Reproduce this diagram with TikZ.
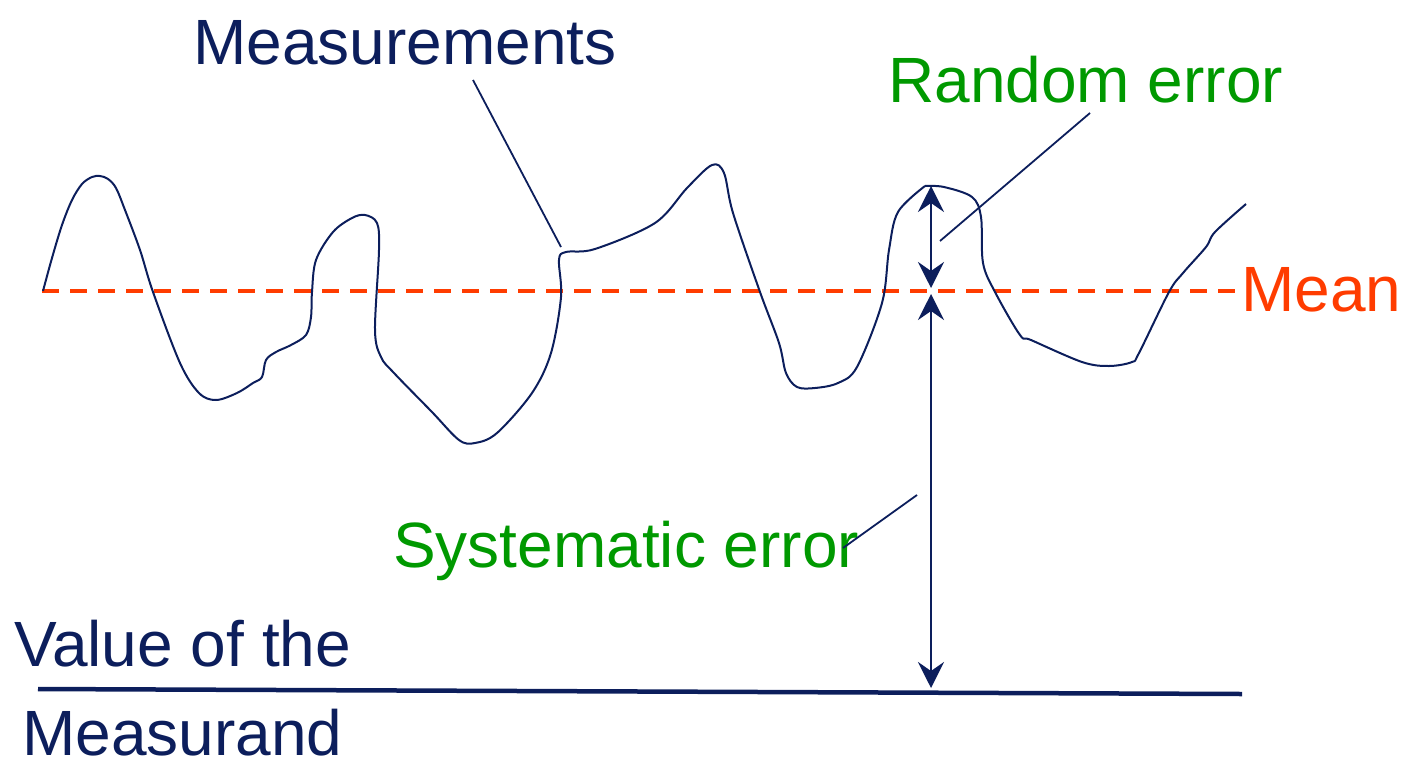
\documentclass[tikz,border=0pt]{standalone}
\usepackage{fontspec}
\setmainfont{Liberation Sans}
\usetikzlibrary{arrows.meta}
\definecolor{navy}{RGB}{12,30,92}
\definecolor{grn}{RGB}{0,153,0}
\definecolor{orng}{RGB}{255,60,0}
\tikzset{
  lbl/.style={inner sep=0pt, anchor=base west, font=\fontsize{64}{70}\selectfont},
  curve/.style={navy, line width=2pt, line join=round},
  leader/.style={navy, line width=1.8pt},
  meanline/.style={orng, line width=4.5pt, dash pattern=on 17pt off 11pt},
  errarrow/.style={navy, line width=2.6pt, {Stealth[length=26pt,width=26pt,inset=9pt]}-{Stealth[length=26pt,width=26pt,inset=9pt]}},
  baseln/.style={navy, line width=4.5pt}
}
\begin{document}
\begin{tikzpicture}[x=1pt,y=-1pt]
\useasboundingbox (0,0) rectangle (1403,761);
% mean line
\coordinate (m0) at (42,291);
\coordinate (m1) at (1240,291);
\draw[meanline] (m0) -- (m1);
% measurand line
\coordinate (b0) at (38,689);
\coordinate (b1) at (1242,694);
\draw[baseln] (b0) -- (b1);
% measurement curve
\draw[curve] plot[smooth, tension=0.55] coordinates {
 (43,291) (52,258) (62,225) (72,200) (82,184) (92,177) (100,176) (108,179)
 (116,188) (125,210) (140,250) (153,292) (180,363) (199,393)
 (216,400) (237,393) (253,383) (262,377) (266,360) (276,352) (291,345) (306,335)
 (311,317) (312,292) (316,260) (333,232) (352,218) (365,215) (377,223) (379,250)
 (375,330) (381,357) (394,373) (432,412) (459,440) (475,443) (497,433) (532,393)
 (551,353) (561,297) (559,260) (566,252) (595,249) (655,223) (687,188) (712,165)
 (724,173) (733,213) (760,292) (779,343) (786,373) (797,387) (815,388) (838,383)
 (857,367) (882,303) (889,250) (898,212) (925,186)};
\draw[curve] plot[smooth, tension=0.55] coordinates {
 (925,186) (944,187) (972,197) (981,217) (983,263) (995,292) (1020,335) (1031,340)
 (1082,362) (1109,366) (1132,362) (1139,353) (1169,292) (1183,273) (1206,247)
 (1215,232) (1246,204)};
% arrows
\coordinate (rt) at (931,186);
\coordinate (rb) at (931,288);
\coordinate (st) at (931,294);
\coordinate (sb) at (931,688);
\draw[errarrow] (rt) -- (rb);
\draw[errarrow] (st) -- (sb);
% labels
\node[lbl, navy] (meas) at (193,64) {Measurements};
\node[lbl, grn] (rand) at (888,102) {Random error};
\node[lbl, orng] (mean) at (1241,311) {Mean};
\node[lbl, grn] (sys) at (393,567) {Systematic error};
\node[lbl, navy] (val) at (14,666) {Value of the};
\node[lbl, navy, text depth=0pt] (msd) at (22,755) {Measurand};
% leaders
\coordinate (l1a) at (473,80);
\coordinate (l1b) at (561,247);
\draw[leader] (l1a) -- (l1b);
\coordinate (l2a) at (1090,113);
\coordinate (l2b) at (940,241);
\draw[leader] (l2a) -- (l2b);
\coordinate (l3a) at (917,495);
\coordinate (l3b) at (843,548);
\draw[leader] (l3a) -- (l3b);
\end{tikzpicture}
\end{document}
